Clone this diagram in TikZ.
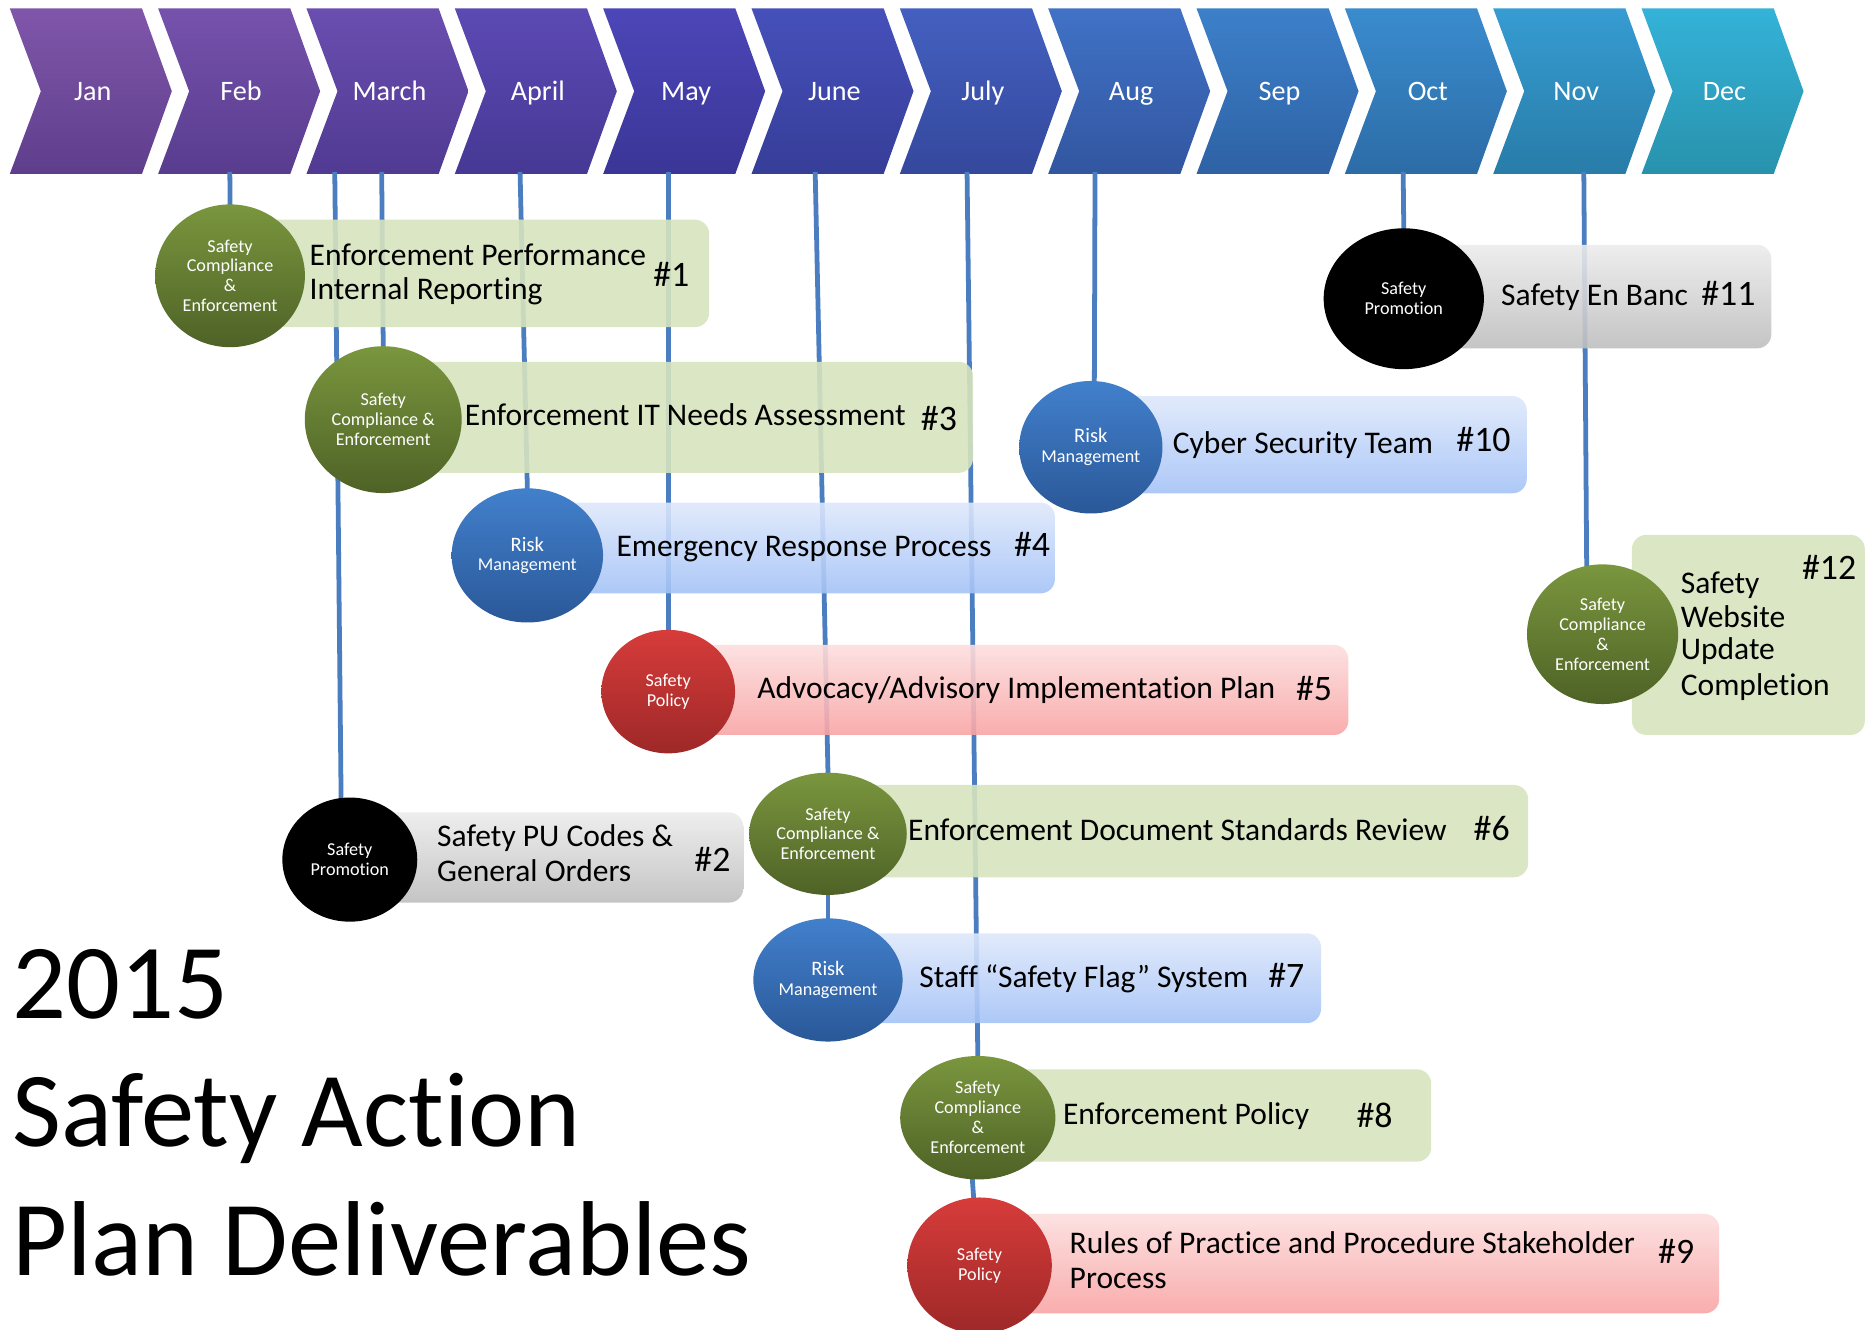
\documentclass[tikz,border=0pt]{standalone}
\usepackage{fontspec}
\setmainfont{Carlito}[Ligatures={TeX,NoCommon}]
\usetikzlibrary{shapes.geometric}
\pgfdeclarelayer{bg}\pgfdeclarelayer{mid}
\pgfsetlayers{bg,mid,main}
% month colours
\definecolor{mT0}{RGB}{128,86,170}\definecolor{mB0}{RGB}{94,62,140}
\definecolor{mT1}{RGB}{118,82,172}\definecolor{mB1}{RGB}{88,60,142}
\definecolor{mT2}{RGB}{106,78,176}\definecolor{mB2}{RGB}{80,58,146}
\definecolor{mT3}{RGB}{92,74,180}\definecolor{mB3}{RGB}{70,56,148}
\definecolor{mT4}{RGB}{76,70,184}\definecolor{mB4}{RGB}{58,54,150}
\definecolor{mT5}{RGB}{70,80,186}\definecolor{mB5}{RGB}{54,62,152}
\definecolor{mT6}{RGB}{68,96,192}\definecolor{mB6}{RGB}{52,72,156}
\definecolor{mT7}{RGB}{64,114,198}\definecolor{mB7}{RGB}{50,86,160}
\definecolor{mT8}{RGB}{60,128,202}\definecolor{mB8}{RGB}{46,98,164}
\definecolor{mT9}{RGB}{58,140,206}\definecolor{mB9}{RGB}{44,108,166}
\definecolor{mT10}{RGB}{54,156,210}\definecolor{mB10}{RGB}{40,124,168}
\definecolor{mT11}{RGB}{52,178,216}\definecolor{mB11}{RGB}{40,146,172}
% other colours
\definecolor{ln}{RGB}{74,126,192}
\definecolor{gT}{RGB}{122,150,62}\definecolor{gB}{RGB}{78,98,38}
\definecolor{bT}{RGB}{66,128,204}\definecolor{bB}{RGB}{42,88,152}
\definecolor{rT}{RGB}{214,60,58}\definecolor{rB}{RGB}{158,40,40}
\definecolor{gbox}{RGB}{215,227,190}
\definecolor{bbT}{RGB}{222,232,251}\definecolor{bbB}{RGB}{164,194,246}
\definecolor{rbT}{RGB}{253,222,222}\definecolor{rbB}{RGB}{248,164,164}
\definecolor{kbT}{RGB}{236,236,236}\definecolor{kbB}{RGB}{190,190,190}
\begin{document}
\begin{tikzpicture}[x=0.5pt,y=-0.5pt,
  month/.style={text=white,font=\fontsize{11.8}{14}\selectfont,anchor=base,inner sep=0pt},
  txt/.style={font=\fontsize{13.2}{14.5}\selectfont,anchor=base west,inner sep=0pt},
  num/.style={font=\fontsize{15}{17}\selectfont,anchor=base west,inner sep=0pt},
  ttl/.style={font=\fontsize{44.6}{53}\selectfont,anchor=base west,inner sep=0pt},
  circ/.style={ellipse,inner sep=0pt,align=center,text=white,font=\fontsize{7.6}{8.35}\selectfont},
  gC/.style={circ,top color=gT,bottom color=gB},
  bC/.style={circ,top color=bT,bottom color=bB},
  rC/.style={circ,top color=rT,bottom color=rB},
  kC/.style={circ,fill=black},
  gBox/.style={fill=gbox,fill opacity=0.9,rounded corners=6pt},
  bBox/.style={top color=bbT,bottom color=bbB,fill opacity=0.9,rounded corners=6pt},
  rBox/.style={top color=rbT,bottom color=rbB,fill opacity=0.9,rounded corners=6pt},
  kBox/.style={top color=kbT,bottom color=kbB,fill opacity=0.9,rounded corners=6pt},
  conn/.style={draw=ln,line width=2pt,shorten >=-3pt}
]
\useasboundingbox (0,0) rectangle (1568,1114);
\newcommand{\rsk}{{\fontsize{8.6}{9}\selectfont Risk}\\Management}

% ---- circles (main layer)
\node[gC,minimum width=62.7pt,minimum height=59.8pt] (c1) at (192.7,231) {Safety\\Compliance\\\&\\Enforcement};
\node[gC,minimum width=65.7pt,minimum height=61.5pt] (c3) at (321,351.5) {Safety\\Compliance \&\\Enforcement};
\node[bC,minimum width=63.4pt,minimum height=56.2pt] (c4) at (441.7,465.2) {\rsk};
\node[rC,minimum width=56pt,minimum height=51.7pt] (c5) at (559.7,579.3) {Safety\\Policy};
\node[kC,minimum width=56.5pt,minimum height=52pt] (c2) at (293,720) {Safety\\Promotion};
\node[gC,minimum width=66pt,minimum height=51.2pt] (c6) at (693.5,698.4) {Safety\\Compliance \&\\Enforcement};
\node[bC,minimum width=62.5pt,minimum height=51.6pt] (c7) at (693.5,820.8) {\rsk};
\node[gC,minimum width=65pt,minimum height=51.7pt] (c8) at (819,936.2) {Safety\\Compliance\\\&\\Enforcement};
\node[rC,minimum width=60.5pt,minimum height=57pt] (c9) at (820.5,1060) {Safety\\Policy};
\node[bC,minimum width=60pt,minimum height=55.5pt] (c10) at (913.7,374.6) {\rsk};
\node[kC,minimum width=67.1pt,minimum height=59pt] (c11) at (1175.8,250.2) {Safety\\Promotion};
\node[gC,minimum width=63.3pt,minimum height=58.5pt] (c12) at (1342.3,531.2) {Safety\\Compliance\\\&\\Enforcement};

% ---- chevrons and connectors (background)
\begin{pgfonlayer}{bg}
\foreach \i/\m in {0/Jan,1/Feb,2/March,3/April,4/May,5/June,6/July,7/Aug,8/Sep,9/Oct,10/Nov,11/Dec}{
  \pgfmathsetmacro\s{8.2+124.25*\i}
  \shade[top color=mT\i,bottom color=mB\i] (\s,7) -- ++(110.7,0) -- ++(25,69.4) -- ++(-25,69.3) -- ++(-110.7,0) -- ++(26,-69.3) -- cycle;
  \node[month] (m\i) at (\s+69.5,84) {\m};
}
\coordinate (kFeb) at (192.5,144);
\coordinate (kMa) at (280.4,144);
\coordinate (kMb) at (319.7,144);
\coordinate (kApr) at (435.6,144);
\coordinate (kMay) at (559.7,144);
\coordinate (kJun) at (682.8,144);
\coordinate (kJul) at (810,144);
\coordinate (kAug) at (917.2,144);
\coordinate (kOct) at (1175.3,144);
\coordinate (kNov) at (1326.6,144);
\draw[conn] (kFeb) -- (c1.north);
\draw[conn] (kMa) -- (c2.98);
\draw[conn] (kMb) -- (c3.north);
\draw[conn] (kApr) -- (c4.north);
\draw[conn] (kMay) -- (c5.north);
\draw[conn] (kJun) -- (c6.north);
\draw[conn,shorten <=-3pt] (c6.south) -- (c7.north);
\draw[conn] (kJul) -- (c8.north);
\draw[conn,shorten <=-3pt] (c8.265) -- (c9.95);
\draw[conn] (kAug) -- (c10.87);
\draw[conn] (kOct) -- (c11.north);
\draw[conn] (kNov) -- (c12.103);
\end{pgfonlayer}

% ---- boxes (middle layer)
\begin{pgfonlayer}{mid}
\path[gBox] (192.7,184) rectangle (594,274);
\path[gBox] (321,303) rectangle (815,396);
\path[bBox] (441.7,421) rectangle (883.6,497);
\path[rBox] (559.7,540.2) rectangle (1129.4,615.6);
\path[kBox] (293,680.4) rectangle (622.6,756);
\path[gBox] (693.5,657.5) rectangle (1280,734.8);
\path[bBox] (693.5,781.7) rectangle (1106.5,857);
\path[gBox] (819,895.7) rectangle (1198.8,973);
\path[rBox] (820.5,1016.8) rectangle (1440,1100);
\path[bBox] (913.7,331.7) rectangle (1278.8,413.2);
\path[kBox] (1175.8,205) rectangle (1483.7,291.8);
\path[gBox] (1366.9,448) rectangle (1562,615.6);
\end{pgfonlayer}

% ---- texts
\node[txt] (t1a) at (259,222) {Enforcement Performance};
\node[txt] (t1b) at (259,250.7) {Internal Reporting};
\node[num] (n1) at (546.8,240) {\#1};
\node[txt] (t3) at (389,356) {Enforcement IT Needs Assessment};
\node[num] (n3) at (771,361) {\#3};
\node[txt] (t4) at (516,466.3) {Emergency Response Process};
\node[num] (n4) at (849,466) {\#4};
\node[txt] (t5) at (634,585) {Advocacy/Advisory Implementation Plan};
\node[num] (n5) at (1085.2,586.9) {\#5};
\node[txt] (t2a) at (365.8,709.2) {Safety PU Codes \&};
\node[txt] (t2b) at (365.8,738.5) {General Orders};
\node[num] (n2) at (581.3,730) {\#2};
\node[txt] (t6) at (760.3,703.6) {Enforcement Document Standards Review};
\node[num] (n6) at (1234,704) {\#6};
\node[txt] (t7) at (769.7,827) {Staff “Safety Flag” System};
\node[num] (n7) at (1062,827) {\#7};
\node[txt] (t8) at (890,941.5) {Enforcement Policy};
\node[num] (n8) at (1135.8,944) {\#8};
\node[txt] (t9a) at (895.6,1049.8) {Rules of Practice and Procedure Stakeholder};
\node[txt] (t9b) at (895.6,1079) {Process};
\node[num] (n9) at (1388.5,1058) {\#9};
\node[txt] (t10) at (982,379.7) {Cyber Security Team};
\node[num] (n10) at (1219.5,378.3) {\#10};
\node[txt] (t11) at (1257,256.3) {Safety En Banc};
\node[num] (n11) at (1424.6,256) {\#11};
\node[txt] (t12a) at (1407.5,497.5) {Safety};
\node[txt] (t12b) at (1407.5,525.4) {Website};
\node[txt] (t12c) at (1407.5,552.8) {Update};
\node[txt] (t12d) at (1407.5,582.7) {Completion};
\node[num] (n12) at (1509,485.8) {\#12};

% ---- title
\node[ttl] (y) at (10,853) {2015};
\node[ttl] (ya) at (10,960.4) {Safety Action};
\node[ttl] (yb) at (10,1068) {Plan Deliverables};
\end{tikzpicture}
\end{document}
